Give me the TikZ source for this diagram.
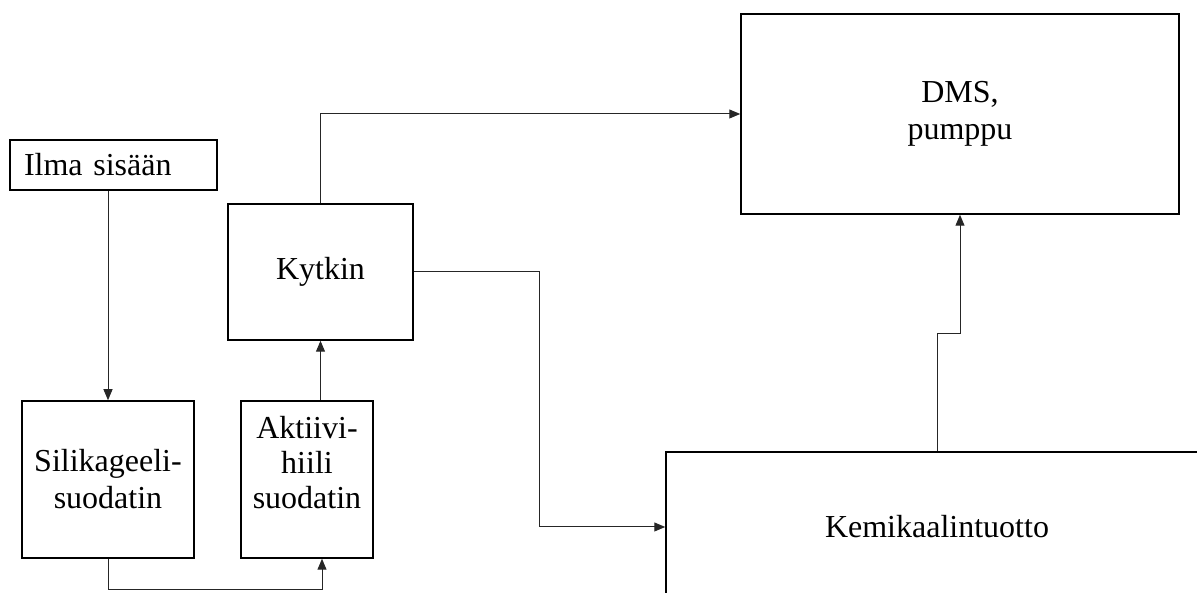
\documentclass[tikz,border=0pt]{standalone}
\usepackage{fontspec}
\setmainfont{Liberation Serif}
\usetikzlibrary{arrows.meta,calc}
\begin{document}
\begin{tikzpicture}[x=1pt,y=1pt,
  box/.style={draw=black, line width=1.5pt, inner sep=0pt, align=center,
    font=\fontsize{32}{37}\selectfont},
  arr/.style={draw=black!85, line width=1pt, -{Triangle[length=11pt,width=9pt]}},
  line/.style={draw=black!85, line width=1pt}]
\useasboundingbox (0,0) rectangle (1197,593);
\clip (0,0) rectangle (1197,593);

% blocks
\node[box, minimum width=207, minimum height=50, text width=179, align=left,
  inner xsep=14pt] (ilma) at (113.5,428) {Ilma sisään};
\node[box, minimum width=172, minimum height=157] (sili) at (108,113.5)
  {Silikageeli-\\suodatin};
\node[box, minimum width=132, minimum height=157,
  label={[font=\fontsize{32}{35}\selectfont, align=center, yshift=17pt]center:Aktiivi-\\hiili\\suodatin}]
  (akt) at (307,113.5) {};
\node[box, minimum width=185, minimum height=136] (kyt) at (320.5,321) {Kytkin};
\node[box, minimum width=438, minimum height=200] (dms) at (960,479) {DMS,\\pumppu};
\node[box, minimum width=542, minimum height=150] (kem) at (937,66) {Kemikaalintuotto};

% flow connectors
\draw[arr] (ilma.south -| sili.north) -- (sili.north);
\draw[arr] (sili.south) -- ++(0,-31) -| ([xshift=15pt]akt.south);
\draw[arr] (kyt.south |- akt.north) -- (kyt.south);
\draw[arr] (kyt.north) |- (dms.west);
\draw[arr] (kyt.east) -| ($(kyt.east)!0.5!(kem.west)$) |- (kem.west);
\draw[arr] (kem.north) -- ++(0,118) -| (dms.south);
\end{tikzpicture}
\end{document}
